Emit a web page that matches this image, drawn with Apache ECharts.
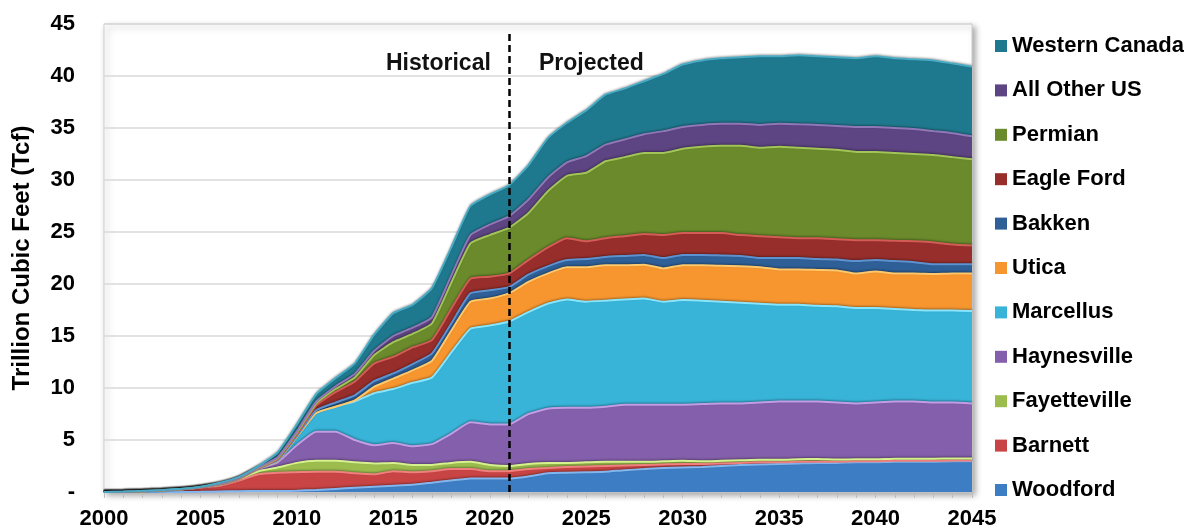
<!DOCTYPE html>
<html>
<head>
<meta charset="utf-8">
<script src="https://cdn.jsdelivr.net/npm/echarts@6/dist/echarts.min.js"></script>
<style>
  html, body { margin: 0; padding: 0; background: #fff; }
  #chart { width: 1184px; height: 529px; }
</style>
</head>
<body>
<div id="chart"></div>
<script>
// years on the x axis
var years = ['2000','2001','2002','2003','2004','2005','2006','2007','2008','2009',
  '2010','2011','2012','2013','2014','2015','2016','2017','2018','2019',
  '2020','2021','2022','2023','2024','2025','2026','2027','2028','2029',
  '2030','2031','2032','2033','2034','2035','2036','2037','2038','2039',
  '2040','2041','2042','2043','2044','2045'];

// Tcf per play (stacked bottom to top)
var woodford = [0,0,0,0,0, 0.02,0.05,0.08,0.1,0.1, 0.12,0.2,0.3,0.4,0.5, 0.6,0.7,0.9,1.1,1.3,
  1.3,1.3,1.5,1.8,1.85, 1.9,1.95,2.1,2.2,2.3, 2.35,2.4,2.5,2.6,2.65, 2.7,2.75,2.8,2.8,2.85,
  2.85,2.9,2.9,2.9,2.95, 2.95];
var barnett = [0,0.02,0.08,0.15,0.25, 0.38,0.55,1.02,1.6,1.75, 1.78,1.75,1.65,1.4,1.2, 1.4,1.2,1.1,1.1,0.9,
  0.7,0.7,0.7,0.5,0.55, 0.55,0.55,0.45,0.4,0.35, 0.35,0.3,0.25,0.2,0.2, 0.15,0.15,0.12,0.12,0.1,
  0.1,0.1,0.1,0.1,0.08, 0.08];
var fayetteville = [0,0,0,0,0.01, 0.05,0.1,0.15,0.3,0.5, 0.9,1.05,1.05,1.05,1.05, 0.8,0.7,0.6,0.6,0.7,
  0.6,0.5,0.5,0.5,0.4, 0.4,0.4,0.35,0.3,0.3, 0.3,0.25,0.25,0.25,0.25, 0.25,0.25,0.25,0.2,0.2,
  0.2,0.2,0.2,0.2,0.2, 0.2];
var haynesville = [0,0,0,0,0, 0.01,0.05,0.05,0.2,0.5, 1.7,2.8,2.8,2.15,1.75, 1.9,1.8,2.0,2.8,3.8,
  3.9,4.0,4.8,5.2,5.3, 5.25,5.3,5.5,5.5,5.45, 5.4,5.5,5.5,5.45,5.5, 5.6,5.55,5.53,5.48,5.35,
  5.45,5.5,5.5,5.4,5.37, 5.27];
var marcellus = [0,0,0,0,0, 0,0,0,0.05,0.15, 0.8,1.8,2.4,3.7,5.0, 5.2,6.1,6.4,7.8,9.0,
  9.5,9.9,9.8,10.1,10.4, 10.2,10.2,10.1,10.2,9.9, 10.05,9.95,9.8,9.7,9.5, 9.3,9.3,9.2,9.25,9.2,
  9.1,8.9,8.8,8.85,8.85, 8.9];
var utica = [0,0,0,0,0, 0,0,0,0,0, 0,0,0,0.1,0.6, 1.0,1.2,1.6,2.1,2.6,
  2.6,2.7,2.9,2.9,3.1, 3.3,3.4,3.3,3.25,3.2, 3.35,3.4,3.45,3.5,3.5, 3.4,3.4,3.45,3.45,3.3,
  3.5,3.4,3.5,3.5,3.55, 3.6];
var bakken = [0,0,0,0,0, 0,0,0,0.03,0.05, 0.1,0.25,0.4,0.5,0.55, 0.5,0.6,0.7,0.7,0.8,
  0.8,0.6,0.7,0.7,0.7, 0.8,0.8,0.9,0.95,1.0, 1.0,1.0,1.0,1.0,0.9, 1.1,1.1,1.05,1.05,1.2,
  1.1,1.2,1.1,0.95,0.9, 0.9];
var eagleFord = [0,0,0,0,0, 0,0,0,0,0.1, 0.15,0.45,1.0,1.3,1.7, 1.6,1.6,1.3,1.4,1.4,
  1.3,1.3,1.4,1.8,2.1, 1.7,1.8,1.9,2.0,2.2, 2.1,2.1,2.15,2.0,2.1, 2.0,1.9,2.0,1.95,2.0,
  1.9,1.95,2.0,2.1,1.9, 1.8];
var permian = [0,0,0,0,0, 0.01,0.01,0.03,0.03,0.1, 0.15,0.2,0.3,0.4,0.8, 1.4,1.3,1.6,2.5,3.4,
  4.0,4.4,4.5,5.4,6.0, 6.6,7.4,7.6,7.8,7.9, 8.1,8.3,8.4,8.6,8.5, 8.7,8.7,8.6,8.6,8.5,
  8.5,8.45,8.4,8.4,8.4, 8.3];
var allOtherUS = [0,0.01,0.01,0.02,0.02, 0.02,0.03,0.03,0.05,0.1, 0.15,0.2,0.25,0.35,0.4, 0.6,0.6,0.6,0.7,0.8,
  1.0,1.1,1.3,1.3,1.3, 1.6,1.6,1.7,1.8,2.1, 2.1,2.1,2.1,2.1,2.2, 2.2,2.25,2.3,2.3,2.4,
  2.4,2.4,2.4,2.3,2.3, 2.2];
var westernCanada = [0,0.02,0.02,0.03,0.04, 0.02,0.1,0.1,0.13,0.45, 0.65,0.7,0.8,1.0,1.55, 2.2,2.2,2.8,2.7,2.8,
  2.9,3.0,3.3,3.8,3.8, 4.4,4.8,4.9,5.1,5.5, 6.0,6.2,6.3,6.4,6.6, 6.5,6.65,6.6,6.6,6.6,
  6.8,6.7,6.7,6.8,6.7, 6.7];

var yTicks = [0, 5, 10, 15, 20, 25, 30, 35, 40, 45];

var font = '"Liberation Sans", Arial, sans-serif';

// name, data, fill, light top edge
var plays = [
  ['Woodford', woodford, '#3d7dc3', '#82b6ee'],
  ['Barnett', barnett, '#c94444', '#f07f7f'],
  ['Fayetteville', fayetteville, '#9cbd4e', '#d6f28c'],
  ['Haynesville', haynesville, '#845fab', '#c39ce6'],
  ['Marcellus', marcellus, '#38b4d8', '#86e6ff'],
  ['Utica', utica, '#f7962f', '#ffc86a'],
  ['Bakken', bakken, '#2e5f97', '#5d92d0'],
  ['Eagle Ford', eagleFord, '#972e2b', '#d45b56'],
  ['Permian', permian, '#6a8a2b', '#a2c558'],
  ['All Other US', allOtherUS, '#5d4482', '#9077b8'],
  ['Western Canada', westernCanada, '#1f798e', '#48abc3']
];

var series = plays.map(function (p, i) {
  var s = {
    name: p[0],
    type: 'line',
    stack: 'total',
    data: p[1],
    symbol: 'none',
    showSymbol: false,
    smooth: 0.15,
    itemStyle: { color: p[2] },
    lineStyle: { color: p[3], width: 2, shadowColor: 'rgba(0,0,0,0.35)', shadowBlur: 2, shadowOffsetY: -1 },
    areaStyle: { color: p[2], opacity: 1 },
    emphasis: { disabled: true }
  };
  if (i === plays.length - 1) {
    s.markLine = {
      silent: true,
      symbol: ['none', 'none'],
      label: { show: false },
      lineStyle: { color: '#000', type: [7, 4], width: 2.5 },
      data: [[{ coord: ['2021', 0] }, { coord: ['2021', 44.3] }]]
    };
  }
  return s;
});

var chart = echarts.init(document.getElementById('chart'));

chart.setOption({
  animation: false,
  backgroundColor: '#fff',
  grid: {
    left: 104, right: 212, top: 24, bottom: 37,
    outerBoundsMode: 'none',
    show: true,
    backgroundColor: '#fff',
    borderColor: '#cfcfcf',
    borderWidth: 1,
    shadowColor: 'rgba(0,0,0,0.35)',
    shadowBlur: 6,
    shadowOffsetX: 3,
    shadowOffsetY: 3
  },
  legend: {
    orient: 'vertical',
    left: 990,
    top: 30,
    icon: 'rect',
    itemWidth: 12,
    itemHeight: 12,
    itemGap: 22.4,
    selectedMode: false,
    data: plays.map(function (p) { return p[0]; }).reverse(),
    textStyle: { fontFamily: font, fontWeight: 'bold', fontSize: 22, lineHeight: 22, color: '#000' }
  },
  xAxis: {
    type: 'category',
    data: years,
    boundaryGap: false,
    axisLine: { lineStyle: { color: '#bdbdbd', width: 1.5 } },
    axisTick: { interval: 0, length: 6, lineStyle: { color: '#bdbdbd' } },
    axisLabel: {
      interval: 4,
      margin: 16,
      color: '#000',
      fontFamily: font,
      fontWeight: 'bold',
      fontSize: 22
    },
    splitLine: { show: false }
  },
  yAxis: {
    type: 'value',
    min: yTicks[0],
    max: yTicks[yTicks.length - 1],
    interval: 5,
    name: 'Trillion Cubic Feet (Tcf)',
    nameLocation: 'middle',
    nameGap: 70,
    nameTextStyle: { fontFamily: font, fontWeight: 'bold', fontSize: 24, color: '#000' },
    axisLine: { show: false },
    axisTick: { show: false },
    axisLabel: {
      margin: 29,
      color: '#000',
      fontFamily: font,
      fontWeight: 'bold',
      fontSize: 22,
      formatter: function (v) { return v === 0 ? '-' : v; }
    },
    splitLine: { lineStyle: { color: '#d9d9d9', width: 1.5 } }
  },
  graphic: [
    { type: 'text', left: 386, top: 52, z: 100,
      style: { text: 'Historical', font: 'bold 23px ' + font, fill: '#111' } },
    { type: 'text', left: 539, top: 52, z: 100,
      style: { text: 'Projected', font: 'bold 23px ' + font, fill: '#111' } }
  ],
  series: series
});
</script>
</body>
</html>
